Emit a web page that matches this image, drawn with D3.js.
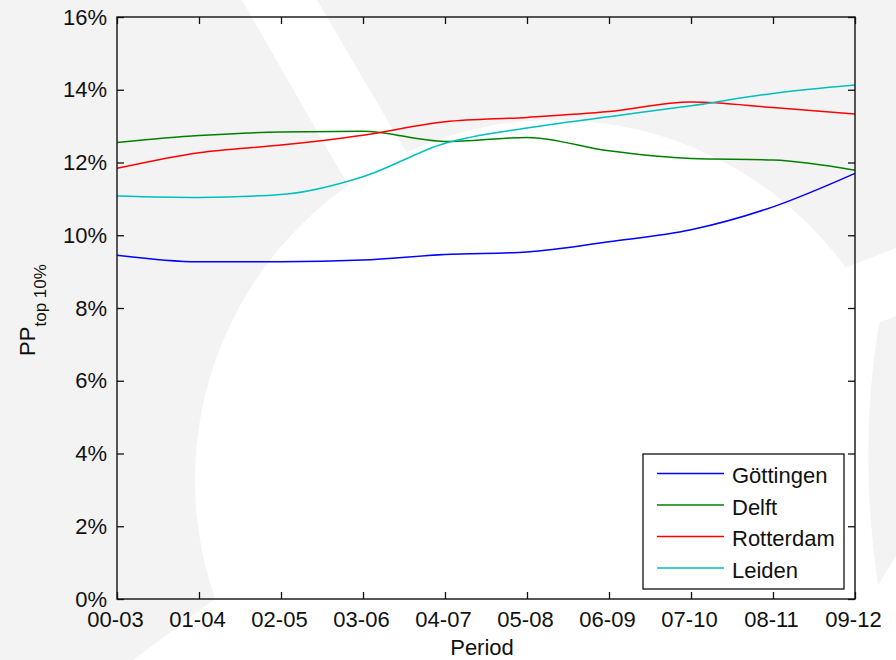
<!DOCTYPE html>
<html>
<head>
<meta charset="utf-8">
<script src="https://cdn.jsdelivr.net/npm/d3@7/dist/d3.min.js"></script>
<style>
    body { margin: 0; background: #f3f3f3; }
    svg text { font-family: "Liberation Sans", Arial, sans-serif; fill: #111; }
</style>
</head>
<body>
<svg id="chart" width="896" height="660"></svg>
<script>

/* global d3 */

let periods = ['00-03', '01-04', '02-05', '03-06', '04-07', '05-08', '06-09', '07-10', '08-11', '09-12'];

let gottingen = [9.45, 9.27, 9.27, 9.32, 9.47, 9.54, 9.82, 10.15, 10.78, 11.70];
let delft     = [12.55, 12.74, 12.84, 12.86, 12.58, 12.69, 12.32, 12.11, 12.07, 11.79];
let rotterdam = [11.84, 12.27, 12.48, 12.75, 13.12, 13.24, 13.40, 13.66, 13.51, 13.33];
let leiden    = [11.08, 11.04, 11.12, 11.61, 12.53, 12.95, 13.26, 13.56, 13.90, 14.13];

let seriesNames  = ['Göttingen', 'Delft', 'Rotterdam', 'Leiden'];
let seriesColors = ['#0000ff', '#008000', '#ff0000', '#00bfbf'];
let seriesValues = [gottingen, delft, rotterdam, leiden];

let yTicks = [0, 0.02, 0.04, 0.06, 0.08, 0.10, 0.12, 0.14, 0.16];

let W = 896, H = 660;
let plot = {left: 117, right: 855, top: 17, bottom: 599};

let svg = d3.select('#chart');

// faint watermark shapes in the slide background
let bg = svg.append('g').attr('class', 'backdrop');
bg.append('rect').attr('width', W).attr('height', H).attr('fill', '#f3f3f3');
bg.append('polygon')
    .attr('points', '242,0 317,0 412,162 352,192')
    .attr('fill', '#fff');
bg.append('circle')
    .attr('cx', 555).attr('cy', 480).attr('r', 360)
    .attr('fill', '#fff');
bg.append('polygon')
    .attr('points', '216,598 245,660 133,660')
    .attr('fill', '#fff');
bg.append('polygon')
    .attr('points', '845,268 896,248 896,318 879,323')
    .attr('fill', '#fff');
bg.append('path')
    .attr('d', 'M879,323 L896,316 L896,556 L878,585 Q858,450 879,323 Z')
    .attr('fill', '#f3f3f3');
bg.append('polygon')
    .attr('points', '896,556 896,660 862,660')
    .attr('fill', '#fff');

let x = d3.scalePoint()
    .domain(periods)
    .range([plot.left, plot.right]);

let y = d3.scaleLinear()
    .domain([0, 0.16])
    .range([plot.bottom, plot.top]);

let pct = d3.format('.0%');

let axes = svg.append('g').attr('class', 'axes');

axes.append('g')
    .attr('transform', `translate(0,${plot.bottom})`)
    .call(d3.axisBottom(x).tickSizeInner(-7).tickSizeOuter(0).tickPadding(12))
    .call(g => g.selectAll('text').attr('dx', -2));

axes.append('g')
    .attr('transform', `translate(0,${plot.top})`)
    .call(d3.axisTop(x).tickSizeInner(-7).tickSizeOuter(0).tickFormat(''));

axes.append('g')
    .attr('transform', `translate(${plot.left},0)`)
    .call(d3.axisLeft(y).tickValues(yTicks).tickFormat(pct).tickSizeInner(-7).tickSizeOuter(0).tickPadding(10));

axes.append('g')
    .attr('transform', `translate(${plot.right},0)`)
    .call(d3.axisRight(y).tickValues(yTicks).tickSizeInner(-7).tickSizeOuter(0).tickFormat(''));

axes.selectAll('.domain').remove();
axes.selectAll('.tick line').attr('stroke', '#111').attr('stroke-width', 1.3);
axes.selectAll('.tick text')
    .attr('font-size', 22)
    .attr('font-family', '"Liberation Sans", Arial, sans-serif')
    .attr('fill', '#111');

let line = d3.line()
    .x((d, i) => x(periods[i]))
    .y(d => y(d / 100))
    .curve(d3.curveMonotoneX);

svg.append('g')
    .attr('class', 'series')
    .selectAll('path')
    .data(seriesValues)
    .enter()
    .append('path')
    .attr('d', line)
    .attr('fill', 'none')
    .attr('stroke', (d, i) => seriesColors[i])
    .attr('stroke-width', 1.5);

svg.append('rect')
    .attr('x', plot.left).attr('y', plot.top)
    .attr('width', plot.right - plot.left)
    .attr('height', plot.bottom - plot.top)
    .attr('fill', 'none')
    .attr('stroke', '#111')
    .attr('stroke-width', 1.4);

svg.append('text')
    .attr('x', (plot.left + plot.right) / 2 - 4)
    .attr('y', 655)
    .attr('text-anchor', 'middle')
    .attr('font-size', 22)
    .text('Period');

let ylab = svg.append('text')
    .attr('transform', 'translate(35,310) rotate(-90)')
    .attr('text-anchor', 'middle')
    .attr('font-size', 22);
ylab.append('tspan').text('PP');
ylab.append('tspan').attr('dy', 11).attr('font-size', 17).text('top 10%');

// legend, lower right
let legend = svg.append('g').attr('class', 'legend');
legend.append('rect')
    .attr('x', 643).attr('y', 454)
    .attr('width', 201).attr('height', 135)
    .attr('fill', '#fff')
    .attr('stroke', '#111')
    .attr('stroke-width', 1.3);

let items = legend.selectAll('g.item')
    .data(seriesNames)
    .enter()
    .append('g')
    .attr('class', 'item')
    .attr('transform', (d, i) => `translate(0,${473.5 + i * 31.5})`);

items.append('line')
    .attr('x1', 657).attr('x2', 724)
    .attr('stroke', (d, i) => seriesColors[i])
    .attr('stroke-width', 1.5);

items.append('text')
    .attr('x', 732)
    .attr('y', 9.5)
    .attr('font-size', 22)
    .text(d => d);

</script>
</body>
</html>
